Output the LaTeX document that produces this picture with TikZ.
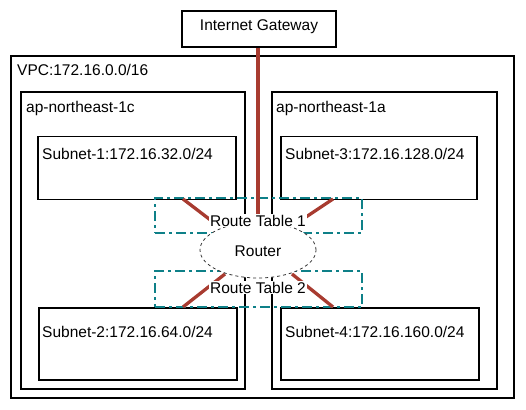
\documentclass[tikz,border=0pt]{standalone}
\usepackage{fontspec}
\setmainfont{Liberation Sans}
\usetikzlibrary{shapes.geometric}
\definecolor{rtline}{HTML}{0E8088}
\definecolor{gwline}{HTML}{A83B30}

\begin{document}
\begin{tikzpicture}[x=1pt, y=-1pt,
    box/.style={draw, line width=1.1pt, inner sep=0pt},
    txt/.style={font=\fontsize{15.5}{18}\selectfont, inner sep=0pt, anchor=base west},
    rtable/.style={draw=rtline, line width=2.2pt, dash pattern=on 10pt off 4pt on 3pt off 4pt, inner sep=0pt},
    rtlabel/.style={txt, anchor=base, fill=white, inner sep=1pt},
    link/.style={gwline, line width=3.3pt}]
  \useasboundingbox (0,0) rectangle (526,409);

  % containers
  \node[box, minimum width=154pt, minimum height=36pt] (gw) at (259,29) {};
  \node[box, minimum width=503pt, minimum height=342pt] (vpc) at (262.5,227) {};
  \node[box, minimum width=224pt, minimum height=297pt] (az1c) at (133,240.5) {};
  \node[box, minimum width=225pt, minimum height=297pt] (az1a) at (384.5,240.5) {};

  % subnets
  \node[box, minimum width=198pt, minimum height=63pt] (sub1) at (137,168) {};
  \node[box, minimum width=196pt, minimum height=63pt] (sub3) at (379,168) {};
  \node[box, minimum width=198pt, minimum height=72pt] (sub2) at (138,344) {};
  \node[box, minimum width=198pt, minimum height=72pt] (sub4) at (380,344) {};

  % route tables
  \node[rtable, minimum width=207pt, minimum height=35pt] (rt1) at (258.5,215.5) {};
  \node[rtable, minimum width=207pt, minimum height=36pt] (rt2) at (258.5,289) {};

  % line ends
  \coordinate (s1) at (183,199);
  \coordinate (s3) at (333,199);
  \coordinate (s2) at (183,307);
  \coordinate (s4) at (333,307);
  \coordinate (e1) at (217,225);
  \coordinate (e3) at (294,225);
  \coordinate (e2) at (225,274);
  \coordinate (e4) at (292,274);
  \coordinate (egw) at (258,218);

  \draw[link] (gw.south -| egw) -- (egw);
  \draw[link] (s1) -- (e1);
  \draw[link] (s3) -- (e3);
  \draw[link] (s2) -- (e2);
  \draw[link] (s4) -- (e4);

  \node[ellipse, draw=black!80, fill=white, line width=0.8pt, dash pattern=on 3pt off 3pt,
    minimum width=116pt, minimum height=56pt, inner sep=0pt] (router) at (258,250) {};

  % labels
  \node[txt, anchor=base] (gwtext) at (259,31) {Internet Gateway};
  \node[txt] (vpctext) at (17,76) {VPC:172.16.0.0/16};
  \node[txt] (az1ctext) at (26,112) {ap-northeast-1c};
  \node[txt] (az1atext) at (276,112) {ap-northeast-1a};
  \node[txt] (sub1text) at (42,159) {Subnet-1:172.16.32.0/24};
  \node[txt] (sub3text) at (285,159) {Subnet-3:172.16.128.0/24};
  \node[txt] (sub2text) at (42,337) {Subnet-2:172.16.64.0/24};
  \node[txt] (sub4text) at (285,337) {Subnet-4:172.16.160.0/24};
  \node[rtlabel] (rt1text) at (258,226) {Route Table 1};
  \node[rtlabel] (rt2text) at (258,293) {Route Table 2};
  \node[txt, anchor=base] (routertext) at (258,256) {Router};
\end{tikzpicture}
\end{document}
